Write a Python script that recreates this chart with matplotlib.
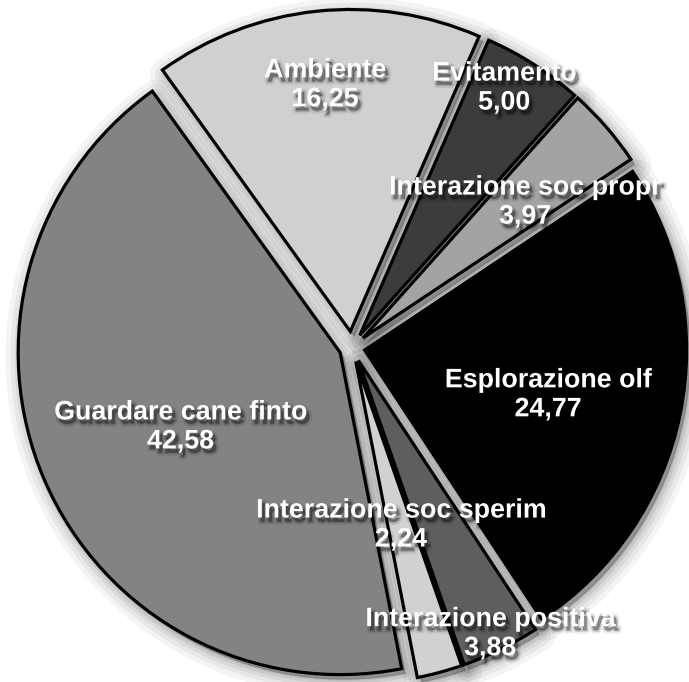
import numpy as np
import matplotlib.pyplot as plt
import matplotlib.patheffects as pe
from matplotlib.patches import Wedge
from matplotlib.transforms import offset_copy

# slices, clockwise from "Esplorazione olf"
categories = ["Esplorazione olf", "Interazione positiva", "Interazione soc sperim",
              "Guardare cane finto", "Ambiente", "Evitamento", "Interazione soc propr"]
values = [24.77, 3.88, 2.24, 42.58, 16.25, 5.00, 3.97]
colors = ["#000000", "#5d5e5e", "#d0d1d1", "#838383", "#cfd0d0", "#3b3c3c", "#a2a3a3"]
explode = [0.04, 0.045, 0.045, 0.04, 0.05, 0.045, 0.045]

# where each label sits: distance from centre (fraction of radius) and angle shift
label_r = [0.626, 0.987, 0.572, 0.587, 0.82, 0.934, 0.702]
label_dtheta = [-2.1, -0.5, 0.3, 1.5, -0.2, 2.3, -0.9]

W, H = 689, 682
R = 322          # radius in pixels
cx, cy = 352, 347.5

fig = plt.figure(figsize=(W / 100, H / 100), dpi=100)
ax = fig.add_axes([0, 0, 1, 1])

wedges, _ = ax.pie(values, colors=colors, explode=explode, startangle=33.7,
                   counterclock=False, radius=1,
                   wedgeprops=dict(edgecolor="black", linewidth=2.3, zorder=3))

# soft drop shadow under every slice
shadow_tr = offset_copy(ax.transData, fig=fig, x=4, y=-5, units="dots")
for w in wedges:
    for lw, a in [(24, 0.045), (17, 0.05), (11, 0.06), (6, 0.07), (2, 0.08)]:
        s = Wedge(w.center, w.r, w.theta1, w.theta2, facecolor="black",
                  edgecolor="black", linewidth=lw, alpha=a, joinstyle="round",
                  transform=shadow_tr, zorder=1)
        ax.add_patch(s)

text_fx = [
    pe.SimpleLineShadow(offset=(2, -3), shadow_color="k", alpha=0.08, linewidth=4.5),
    pe.SimpleLineShadow(offset=(2, -3), shadow_color="k", alpha=0.15, linewidth=2),
    pe.SimplePatchShadow(offset=(2, -3), shadow_rgbFace="k", alpha=0.35),
    pe.Normal(),
]

for w, name, v, lr, dt in zip(wedges, categories, values, label_r, label_dtheta):
    th = np.deg2rad((w.theta1 + w.theta2) / 2 + dt)
    txt = f"{name}\n{v:.2f}".replace(".", ",")
    ax.text(lr * np.cos(th), lr * np.sin(th), txt, ha="center", va="center",
            color="white", fontsize=19.3, fontweight="bold",
            family=["Liberation Sans", "DejaVu Sans"], linespacing=1.15,
            path_effects=text_fx, zorder=5)

ax.set_xlim(-cx / R, (W - cx) / R)
ax.set_ylim(-(H - cy) / R, cy / R)
ax.set_aspect("auto")
ax.axis("off")

fig.savefig("out.png", dpi=100)
